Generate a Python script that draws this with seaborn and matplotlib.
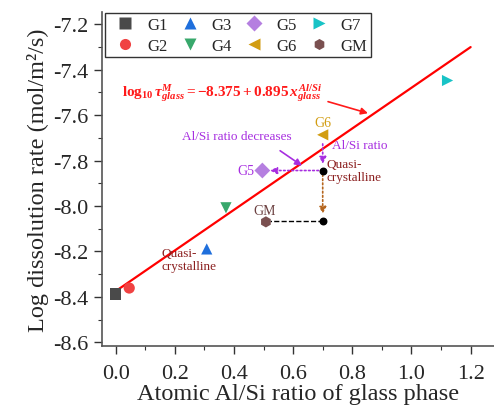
import matplotlib
matplotlib.use("Agg")
import matplotlib.pyplot as plt
import seaborn as sns
import numpy as np
import pandas as pd
from matplotlib.ticker import MultipleLocator

samples = ["G1", "G2", "G3", "G4", "G5", "G6", "G7", "GM"]
al_si = [0.00, 0.046, 0.308, 0.373, 0.496, 0.700, 1.122, 0.508]
log_rate = [-8.387, -8.361, -8.189, -8.008, -7.844, -7.687, -7.448, -8.070]
colors = ["#4a4a4a", "#f04242", "#1f6fdc", "#38a86c", "#b57fe0", "#d29d12", "#18c3c6", "#7a5050"]
markers = ["s", "o", "^", "v", "D", "<", ">", "h"]

intercept = -8.375
slope = 0.895
fit_x = [0.0, 1.2]

# helper points (quasi-crystalline positions)
helper_x = [0.700, 0.700]
helper_y = [-7.844, -8.067]

sns.set_theme(style="white")
plt.rcParams['font.family'] = ['Liberation Serif', 'DejaVu Serif']
plt.rcParams['axes.unicode_minus'] = False
plt.rcParams['mathtext.fontset'] = 'custom'
plt.rcParams['mathtext.rm'] = 'Liberation Serif:bold'
plt.rcParams['mathtext.it'] = 'Liberation Serif:italic:bold'
plt.rcParams['mathtext.bf'] = 'Liberation Serif:bold'

fig = plt.figure(figsize=(4.94, 4.10), dpi=100)
ax = fig.add_axes([0.2065, 0.1537, 0.7935, 0.8155])

df = pd.DataFrame({"Sample": samples, "x": al_si, "y": log_rate})
fit_df = pd.DataFrame({"x": fit_x, "y": [intercept + slope * v for v in fit_x]})

sns.lineplot(data=fit_df, x="x", y="y", color="#ff0000", lw=1.6, ax=ax, legend=False, zorder=2)
sns.scatterplot(data=df, x="x", y="y", hue="Sample", style="Sample",
                palette=dict(zip(samples, colors)), markers=dict(zip(samples, markers)),
                s=65, edgecolor="none", ax=ax, zorder=3)

# helper black dots
ax.scatter(helper_x, helper_y, color="black", s=22, zorder=4)

purple = "#a72ee0"
darkred = "#8b1f1f"
brown = "#b5651d"

# dotted arrows
ax.annotate("", xy=(0.522, helper_y[0]), xytext=(helper_x[0], helper_y[0]),
            arrowprops=dict(arrowstyle="-|>", color=purple, ls=(0, (1, 1.5)), lw=1.2, mutation_scale=10, shrinkA=0, shrinkB=0))
ax.annotate("", xy=(0.700, -7.815), xytext=(0.700, -7.727),
            arrowprops=dict(arrowstyle="-|>", color=purple, ls=(0, (1, 1.5)), lw=1.2, mutation_scale=10, shrinkA=0, shrinkB=0))
ax.annotate("", xy=(0.700, -8.035), xytext=(helper_x[0], helper_y[0]),
            arrowprops=dict(arrowstyle="-|>", color=brown, ls=(0, (1, 1.5)), lw=1.2, mutation_scale=10, shrinkA=0, shrinkB=0))
ax.plot([helper_x[1], 0.522], [helper_y[1], helper_y[1]], color="black", ls="--", lw=1.0, zorder=2)

# equation & arrows
ax.text(0.36, -7.497, r"$\mathrm{log}_{10}\,\tau^{M}_{glass}\mathrm{=-8.375+0.895}\,x^{Al/Si}_{glass}$",
        color="#ff1a1a", fontsize=11, ha="center", va="center")
ax.annotate("", xy=(0.853, -7.592), xytext=(0.718, -7.541),
            arrowprops=dict(arrowstyle="-|>", color="#ff1a1a", lw=1.2, mutation_scale=10, shrinkA=0, shrinkB=0))
ax.text(0.41, -7.691, "Al/Si ratio decreases", color=purple, fontsize=9.5, ha="center", va="center")
ax.annotate("", xy=(0.630, -7.823), xytext=(0.556, -7.757),
            arrowprops=dict(arrowstyle="-|>", color=purple, lw=1.2, mutation_scale=10, shrinkA=0, shrinkB=0))
ax.text(0.731, -7.731, "Al/Si ratio", color=purple, fontsize=9.5, ha="left", va="center")
ax.text(0.441, -7.844, "G5", color=purple, fontsize=10, ha="center", va="center")
ax.text(0.700, -7.634, "G6", color="#d29d12", fontsize=10, ha="center", va="center")
ax.text(0.505, -8.022, "GM", color="#6b4040", fontsize=10, ha="center", va="center")
ax.text(0.714, -7.843, "Quasi-\ncrystalline", color=darkred, fontsize=9.5, ha="left", va="center", linespacing=1.1)
ax.text(0.154, -8.237, "Quasi-\ncrystalline", color=darkred, fontsize=9.5, ha="left", va="center", linespacing=1.1)

ax.set_xlim(-0.046, 1.279)
ax.set_ylim(-8.616, -7.145)
ax.xaxis.set_major_locator(MultipleLocator(0.2))
ax.xaxis.set_minor_locator(MultipleLocator(0.1))
ax.yaxis.set_major_locator(MultipleLocator(0.2))
ax.yaxis.set_minor_locator(MultipleLocator(0.1))
ax.xaxis.set_major_formatter(matplotlib.ticker.FormatStrFormatter("%.1f"))
ax.yaxis.set_major_formatter(matplotlib.ticker.FormatStrFormatter("%.1f"))
ax.tick_params(which="both", direction="out", color="#333333", labelsize=16, bottom=True, left=True)
ax.tick_params(which="major", length=6, width=1.0)
ax.tick_params(which="minor", length=3, width=0.8)
ax.tick_params(axis="x", which="major", pad=7)
for s in ["top", "right"]:
    ax.spines[s].set_visible(False)
for s in ["left", "bottom"]:
    ax.spines[s].set_color("#555555")
    ax.spines[s].set_linewidth(1.2)

ax.set_xlabel("Atomic Al/Si ratio of glass phase", fontsize=17.5, labelpad=0)
ax.set_ylabel("Log dissolution rate (mol/m\u00b2/s)", fontsize=17.5, labelpad=3)

leg = ax.legend(ncol=4, loc="upper left", bbox_to_anchor=(0.0, 1.005), frameon=True, fancybox=False,
                edgecolor="black", fontsize=12, handletextpad=0.3, columnspacing=0.35,
                borderaxespad=0.2, labelspacing=0.3, borderpad=0.2, handlelength=2.0)
leg.get_frame().set_linewidth(1.0)
for h in leg.legend_handles:
    if hasattr(h, "set_markersize"):
        h.set_markersize(8)
    elif hasattr(h, "set_sizes"):
        h.set_sizes([60])

fig.savefig("out.png", dpi=100)
